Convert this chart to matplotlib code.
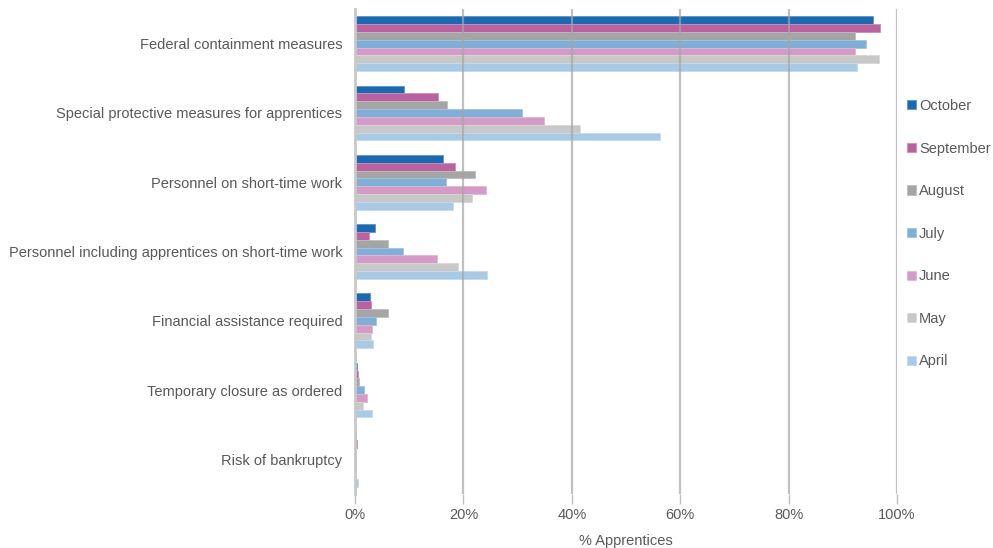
import numpy as np
import matplotlib.pyplot as plt
from matplotlib.ticker import PercentFormatter

categories = [
    "Federal containment measures",
    "Special protective measures for apprentices",
    "Personnel on short-time work",
    "Personnel including apprentices on short-time work",
    "Financial assistance required",
    "Temporary closure as ordered",
    "Risk of bankruptcy",
]
months = ["October", "September", "August", "July", "June", "May", "April"]

october = [95.5, 9.1, 16.2, 3.6, 2.7, 0.4, 0.2]
september = [96.9, 15.4, 18.4, 2.5, 3.0, 0.5, 0.3]
august = [92.3, 17.0, 22.2, 6.1, 6.1, 0.8, 0.1]
july = [94.3, 30.8, 16.8, 8.8, 3.8, 1.6, 0.1]
june = [92.3, 34.8, 24.1, 15.1, 3.1, 2.2, 0.15]
may = [96.6, 41.5, 21.5, 19.0, 3.0, 1.4, 0.05]
april = [92.6, 56.3, 18.1, 24.4, 3.3, 3.1, 0.5]

series = [october, september, august, july, june, may, april]
colors = ["#1B69B1", "#B9629F", "#A5A5A5", "#7FAED6",
          "#D49BC6", "#C8C8C8", "#A9CAE5"]
edges = ["#5C93C8", "#CC8DBA", "#BDBDBD", "#A3C4E2",
         "#E0B6D6", "#D8D8D8", "#C3DAEE"]

plt.rcParams["font.family"] = ["Liberation Sans", "DejaVu Sans"]

fig = plt.figure(figsize=(9.93, 5.48), dpi=100)
ax = fig.add_axes([0.3575, 0.0985, 0.5458, 0.885])

n = len(months)
group = 0.79
h = group / n
y = np.arange(len(categories))
for k, (vals, col, ec, lab) in enumerate(zip(series, colors, edges, months)):
    pos = y - group / 2 + h * (k + 0.5)
    ax.barh(pos, vals, height=h, color=col, edgecolor=ec, linewidth=0.6,
            label=lab, zorder=2)

ax.set_xlim(0, 100)
ax.set_ylim(len(categories) - 0.5, -0.5)
ax.set_xticks(np.arange(0, 101, 20))
ax.xaxis.set_major_formatter(PercentFormatter(decimals=0))
ax.set_yticks(y)
ax.set_yticklabels(categories)

ax.grid(axis="x", color="#A6A6A6", linewidth=1.6, alpha=0.7, zorder=3)
ax.set_axisbelow(False)
for s in ["top", "right", "bottom"]:
    ax.spines[s].set_visible(False)
ax.spines["left"].set_color("#C8C8C8")
ax.spines["left"].set_linewidth(2)
ax.spines["left"].set_zorder(4)

ax.tick_params(axis="y", length=0, pad=9, labelsize=10.5, labelcolor="#595959")
ax.tick_params(axis="x", length=7, width=1, color="#BFBFBF", pad=3,
               labelsize=10.5, labelcolor="#595959", direction="out")
ax.set_xlabel("% Apprentices", fontsize=10.5, color="#595959", labelpad=9)

leg = fig.legend(loc="upper left", bbox_to_anchor=(0.908, 0.83),
                 frameon=False, fontsize=10.5, handlelength=0.6,
                 handleheight=0.6, handletextpad=0.2, labelspacing=1.96,
                 borderaxespad=0)
for t in leg.get_texts():
    t.set_color("#595959")

fig.savefig("out.png", dpi=100)
